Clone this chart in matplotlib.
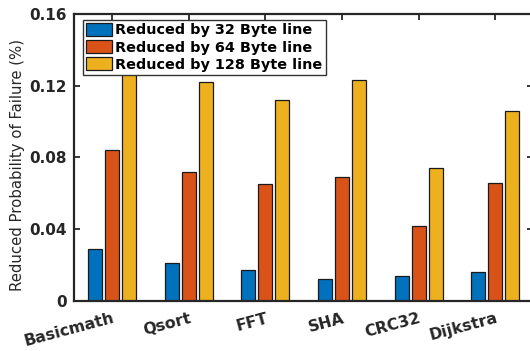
import numpy as np
import matplotlib
matplotlib.use("Agg")
import matplotlib.pyplot as plt
from matplotlib.transforms import ScaledTranslation

benchmarks = ["Basicmath", "Qsort", "FFT", "SHA", "CRC32", "Dijkstra"]
reduced_32 = [0.029, 0.021, 0.017, 0.012, 0.014, 0.016]
reduced_64 = [0.084, 0.072, 0.065, 0.069, 0.042, 0.066]
reduced_128 = [0.130, 0.122, 0.112, 0.123, 0.074, 0.106]
series_labels = ["Reduced by 32 Byte line", "Reduced by 64 Byte line",
                 "Reduced by 128 Byte line"]
y_ticks = [0, 0.04, 0.08, 0.12, 0.16]
y_tick_labels = ["0", "0.04", "0.08", "0.12", "0.16"]

colors = ["#0072BD", "#D95319", "#EDB120"]
axis_col = "#262626"

plt.rcParams["font.family"] = "DejaVu Sans"

fig = plt.figure(figsize=(5.30, 3.51), dpi=100)
ax = fig.add_axes([0.1396, 0.1425, 0.867, 0.8177])

x = np.arange(1, len(benchmarks) + 1)
offset = 0.222
width = 0.183
for k, vals in enumerate([reduced_32, reduced_64, reduced_128]):
    ax.bar(x + (k - 1) * offset, vals, width, color=colors[k],
           edgecolor="#1a1a1a", linewidth=0.9, label=series_labels[k], zorder=2)

ax.set_xlim(0.5, 6.5)
ax.set_ylim(0, 0.16)
ax.set_yticks(y_ticks)
ax.set_yticklabels(y_tick_labels)
ax.set_xticks(x)
ax.set_xticklabels(benchmarks, rotation=15, ha="right", va="top",
                   rotation_mode="anchor")
# shift the slanted labels a little to the right
for lbl in ax.get_xticklabels():
    lbl.set_transform(lbl.get_transform() + ScaledTranslation(0.05, -0.01, fig.dpi_scale_trans))

ax.tick_params(direction="in", length=4, width=1.3, color=axis_col,
               top=True, right=True, labelsize=11, labelcolor=axis_col, pad=5)
ax.tick_params(axis="x", labelsize=11.3, pad=7)
for lbl in ax.get_xticklabels() + ax.get_yticklabels():
    lbl.set_fontweight("bold")
for sp in ax.spines.values():
    sp.set_linewidth(1.6)
    sp.set_color(axis_col)

ax.set_ylabel("Reduced Probability of Failure (%)", fontsize=10.7,
              color=axis_col)
ax.yaxis.set_label_coords(-0.106, 0.475)

leg = ax.legend(loc="upper left", bbox_to_anchor=(0.0196, 0.979),
                borderaxespad=0, prop={"weight": "bold", "size": 10.4},
                handlelength=1.8, handleheight=1.0, labelspacing=0.2,
                handletextpad=0.25, borderpad=0.2, fancybox=False,
                framealpha=1, edgecolor="#333333")
leg.get_frame().set_linewidth(1.0)
leg.set_zorder(5)

fig.savefig("out.png", dpi=100)
